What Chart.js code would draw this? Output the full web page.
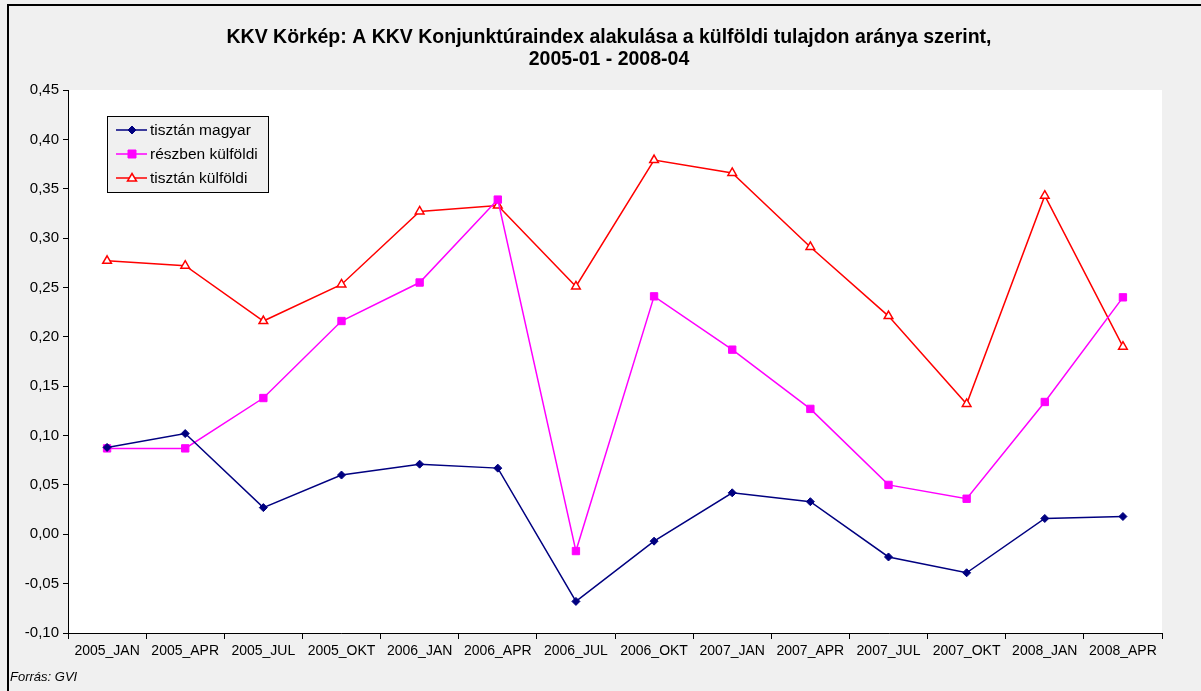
<!DOCTYPE html>
<html>
<head>
<meta charset="utf-8">
<script src="https://cdn.jsdelivr.net/npm/chart.js@4.4.1/dist/chart.umd.min.js"></script>
<style>
html,body{margin:0;padding:0;background:#f0f0f0;}
#wrap{position:relative;width:1201px;height:691px;}
</style>
</head>
<body>
<div id="wrap"><canvas id="c" width="1201" height="691"></canvas></div>
<script>
const categories = ["2005_JAN","2005_APR","2005_JUL","2005_OKT","2006_JAN","2006_APR","2006_JUL","2006_OKT","2007_JAN","2007_APR","2007_JUL","2007_OKT","2008_JAN","2008_APR"];
const tisztanMagyar = [0.088,0.102,0.027,0.060,0.071,0.067,-0.068,-0.007,0.042,0.033,-0.023,-0.039,0.016,0.018];
const reszbenKulfoldi = [0.087,0.087,0.138,0.216,0.255,0.339,-0.017,0.241,0.187,0.127,0.050,0.036,0.134,0.240];
const tisztanKulfoldi = [0.277,0.272,0.216,0.253,0.327,0.333,0.251,0.379,0.366,0.291,0.221,0.132,0.343,0.190];
const seriesNames = ["tisztán magyar","részben külföldi","tisztán külföldi"];
const titleLines = ["KKV Körkép: A KKV Konjunktúraindex alakulása a külföldi tulajdon aránya szerint,","2005-01 - 2008-04"];
const sourceText = "Forrás: GVI";
const yMin = -0.10, yMax = 0.45, yStep = 0.05;

const FONT = "'Liberation Sans', Arial, sans-serif";

const framePlugin = {
  id: 'frame',
  beforeDraw(chart) {
    const ctx = chart.ctx;
    ctx.save();
    ctx.fillStyle = '#f0f0f0';
    ctx.fillRect(0,0,chart.width,chart.height);
    const a = chart.chartArea;
    ctx.fillStyle = '#ffffff';
    ctx.fillRect(a.left, a.top, a.right-a.left, a.bottom-a.top);
    ctx.strokeStyle = '#000';
    ctx.lineWidth = 2;
    ctx.beginPath();
    ctx.moveTo(8, chart.height+5);
    ctx.lineTo(8, 5);
    ctx.lineTo(chart.width+5, 5);
    ctx.stroke();
    // title
    ctx.fillStyle = '#000';
    ctx.font = "bold 19.5px " + FONT;
    ctx.textAlign = 'center';
    ctx.textBaseline = 'middle';
    ctx.fillText(titleLines[0], 609, 38);
    ctx.fillText(titleLines[1], 609, 60);
    // source
    ctx.font = "italic 13px " + FONT;
    ctx.textAlign = 'left';
    ctx.fillText(sourceText, 10, 677);
    ctx.restore();
  },
  afterDatasetsDraw(chart) {
    const ctx = chart.ctx;
    ctx.save();
    const x0 = 107.5, y0 = 116.5, w = 161, h = 76;
    ctx.fillStyle = '#f0f0f0';
    ctx.fillRect(x0, y0, w, h);
    ctx.strokeStyle = '#000';
    ctx.lineWidth = 1;
    ctx.strokeRect(x0, y0, w, h);
    ctx.font = "15.5px " + FONT;
    ctx.textBaseline = 'middle';
    ctx.textAlign = 'left';
    chart.data.datasets.forEach((ds, i) => {
      const y = 130 + i * 24;
      ctx.strokeStyle = ds.borderColor;
      ctx.lineWidth = 1.5;
      ctx.beginPath();
      ctx.moveTo(116, y);
      ctx.lineTo(147, y);
      ctx.stroke();
      ctx.fillStyle = ds.pointBackgroundColor;
      ctx.strokeStyle = ds.pointBorderColor;
      ctx.lineWidth = ds.pointBorderWidth;
      ctx.beginPath();
      const cx = 132;
      if (ds.pointStyle === 'rectRot') {
        const r = 4;
        ctx.moveTo(cx, y-r); ctx.lineTo(cx+r, y); ctx.lineTo(cx, y+r); ctx.lineTo(cx-r, y); ctx.closePath();
        ctx.fill(); ctx.stroke();
      } else if (ds.pointStyle === 'rect') {
        ctx.rect(cx-4, y-4, 8, 8); ctx.fill(); ctx.stroke();
      } else {
        ctx.moveTo(cx, y-4.5); ctx.lineTo(cx+4.5, y+3); ctx.lineTo(cx-4.5, y+3); ctx.closePath();
        ctx.fill(); ctx.stroke();
      }
      ctx.fillStyle = '#000';
      ctx.fillText(ds.label, 150, y+1);
    });
    ctx.restore();
  }
};

new Chart(document.getElementById('c'), {
  type: 'line',
  data: {
    labels: categories,
    datasets: [
      { label: seriesNames[0], data: tisztanMagyar, borderColor: '#000080', backgroundColor: '#000080',
        pointBackgroundColor: '#000080', pointBorderColor: '#000080', pointBorderWidth: 1,
        pointStyle: 'rectRot', pointRadius: 4, borderWidth: 1.5, tension: 0 },
      { label: seriesNames[1], data: reszbenKulfoldi, borderColor: '#ff00ff', backgroundColor: '#ff00ff',
        pointBackgroundColor: '#ff00ff', pointBorderColor: '#ff00ff', pointBorderWidth: 1,
        pointStyle: 'rect', pointRadius: 5.2, borderWidth: 1.5, tension: 0 },
      { label: seriesNames[2], data: tisztanKulfoldi, borderColor: '#ff0000', backgroundColor: '#ffffff',
        pointBackgroundColor: '#ffffff', pointBorderColor: '#ff0000', pointBorderWidth: 1.5,
        pointStyle: 'triangle', pointRadius: 5, borderWidth: 1.5, tension: 0 }
    ]
  },
  options: {
    responsive: false,
    animation: false,
    devicePixelRatio: 1,
    layout: { padding: { left: 8, top: 90, right: 39, bottom: 28 } },
    plugins: { legend: { display: false }, title: { display: false }, tooltip: { enabled: false } },
    scales: {
      x: {
        offset: true,
        grid: { display: true, drawOnChartArea: false, drawTicks: true, tickLength: 6, offset: true, color: '#000', tickColor: '#000' },
        border: { display: true, color: '#000', width: 1 },
        ticks: { color: '#000', font: { family: FONT, size: 14 }, maxRotation: 0, autoSkip: false, padding: 4 },
        afterFit(s) { s.height = 30; }
      },
      y: {
        min: yMin, max: yMax,
        grid: { display: true, drawOnChartArea: false, drawTicks: true, tickLength: 5, color: '#000', tickColor: '#000' },
        border: { display: true, color: '#000', width: 1 },
        ticks: { stepSize: yStep, color: '#000', font: { family: FONT, size: 15 }, padding: 4,
          callback: v => v.toFixed(2).replace('.', ',') },
        afterFit(s) { s.width = 60; }
      }
    }
  },
  plugins: [framePlugin]
});
</script>
</body>
</html>
